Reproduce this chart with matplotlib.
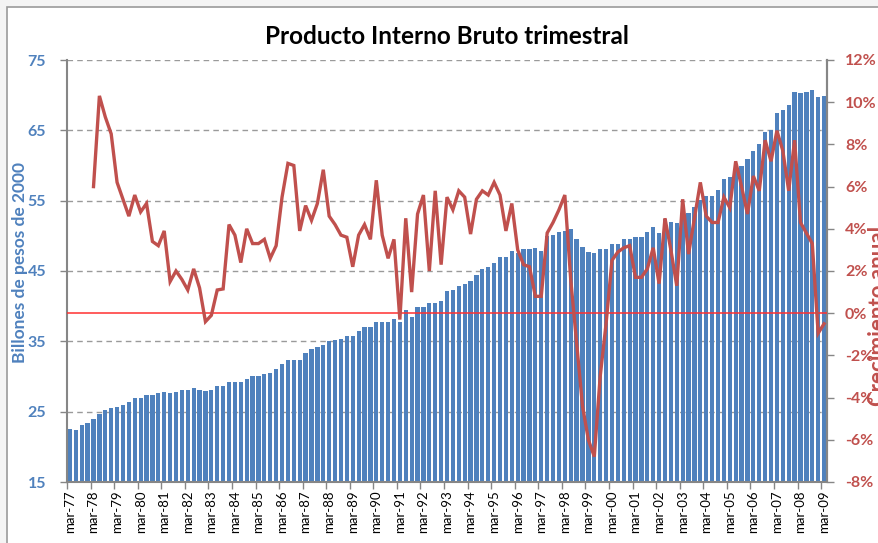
# Libraries
import matplotlib.pyplot as plt
import numpy as np
from matplotlib.patches import Rectangle

# Quarterly GDP (billions of 2000 pesos), mar-77 .. mar-09
pib = [22.6, 22.4, 23.1, 23.4, 24.0, 24.7, 25.3, 25.5, 25.6, 25.9,
       26.4, 26.9, 26.9, 27.3, 27.3, 27.7, 27.8, 27.7, 27.8, 28.1,
       28.1, 28.3, 28.1, 27.9, 28.1, 28.6, 28.6, 29.2, 29.2, 29.2,
       29.6, 30.1, 30.1, 30.3, 30.5, 31.1, 31.8, 32.4, 32.4, 32.3,
       33.3, 33.9, 34.2, 34.5, 35.0, 35.2, 35.4, 35.7, 35.7, 36.5,
       37.0, 37.0, 37.8, 37.8, 37.8, 38.2, 37.7, 39.4, 38.4, 39.9,
       39.9, 40.4, 40.5, 40.8, 42.1, 42.3, 42.8, 43.1, 43.6, 44.5,
       45.3, 45.5, 46.2, 47.0, 47.0, 47.9, 47.6, 48.1, 48.1, 48.2,
       47.9, 50.0, 50.1, 50.5, 50.7, 51.0, 49.6, 48.4, 47.7, 47.5,
       48.1, 48.1, 48.9, 48.9, 49.5, 49.6, 49.8, 49.8, 50.6, 51.2,
       50.4, 52.4, 52.0, 51.8, 54.1, 53.3, 54.1, 55.1, 55.6, 55.7,
       56.5, 58.1, 58.3, 59.8, 59.9, 60.9, 62.1, 63.1, 64.8, 65.1,
       67.5, 67.9, 68.6, 70.4, 70.3, 70.4, 70.7, 69.8, 69.9]

# Annual growth (%), first value at mar-78
crecimiento = [6.0, 10.3, 9.3, 8.5, 6.2, 5.4, 4.6, 5.6, 4.8, 5.2,
               3.4, 3.2, 3.9, 1.5, 2.0, 1.6, 1.1, 2.1, 1.2, -0.4,
               -0.1, 1.1, 1.15, 4.2, 3.7, 2.4, 4.0, 3.3, 3.3, 3.5,
               2.6, 3.2, 5.5, 7.1, 7.0, 3.9, 5.1, 4.4, 5.2, 6.8,
               4.6, 4.2, 3.7, 3.6, 2.2, 3.7, 4.2, 3.5, 6.3, 3.7,
               2.6, 3.5, -0.3, 4.5, 1.0, 4.7, 5.6, 2.0, 5.8, 2.3,
               5.5, 4.9, 5.8, 5.5, 3.75, 5.4, 5.8, 5.6, 6.2, 5.6,
               3.9, 5.2, 3.0, 2.3, 2.2, 0.8, 0.8, 3.8, 4.3, 4.9,
               5.6, 1.6, -1.4, -4.4, -6.0, -6.8, -3.0, -0.5, 2.5, 2.9,
               3.1, 3.2, 1.7, 1.7, 2.1, 3.1, 1.4, 4.5, 3.0, 1.3,
               5.4, 2.8, 4.5, 6.2, 4.6, 4.3, 4.3, 5.5, 5.0, 7.2,
               6.0, 4.7, 6.5, 5.8, 8.2, 7.2, 8.65, 7.7, 5.8, 8.2,
               4.3, 3.8, 3.3, -0.95, -0.5]

# Tick labels, one per year
etiquetas = ['mar-%02d' % (y % 100) for y in range(1977, 2010)]

azul = '#4F81BD'
rojo = '#C0504D'
gris = '#868686'
plt.rcParams['font.family'] = ['Lato', 'DejaVu Sans']

fig = plt.figure(figsize=(8.79, 5.43), dpi=100, facecolor='#f4f4f4')
# Chart frame (behind everything)
fig.patches.append(Rectangle((7 / 879, -0.05), 1.0, 1 - 7 / 543 + 0.05,
                             transform=fig.transFigure, facecolor='white',
                             edgecolor='#9a9a9a', linewidth=1.2, zorder=-5))

ax = fig.add_axes([67 / 879, 1 - 482 / 543, 760 / 879, 422 / 543])
ax.set_facecolor('none')
x = np.arange(len(pib))
ax.bar(x, pib, width=0.72, color=azul, zorder=2)
ax.set_ylim(15, 75)
ax.set_xlim(-0.5, len(pib) - 0.5)
ax.set_yticks(range(15, 76, 10))
ax.grid(axis='y', linestyle=(0, (4, 3)), color='#9a9a9a', linewidth=1.0, zorder=0)
ax.tick_params(axis='y', colors=gris, labelcolor=azul, labelsize=11.5, length=5, width=1, pad=10)
for t in ax.get_yticklabels():
    t.set_fontweight('bold')
ax.set_xticks(x[::4])
ax.set_xticklabels(etiquetas, rotation=90, fontsize=9.5)
ax.set_xticks(x[::4] - 0.5, minor=True)
ax.tick_params(axis='x', which='major', length=0, pad=6)
ax.tick_params(axis='x', which='minor', length=5, color=gris, width=1)
ax.set_ylabel('Billones de pesos de 2000', color=azul, fontsize=12.5, fontweight='bold')
ax.yaxis.set_label_coords(-0.051, 0.52)
ax.spines['top'].set_visible(False)
for s in ['left', 'right', 'bottom']:
    ax.spines[s].set_color(gris)
    ax.spines[s].set_linewidth(1.5)

# Growth line on the secondary axis
ax2 = ax.twinx()
ax2.set_ylim(-8, 12)
ax2.set_yticks(range(-8, 13, 2))
ax2.set_yticklabels(['%d%%' % v for v in range(-8, 13, 2)])
ax2.axhline(0, color='#FF3030', linewidth=1.1, zorder=3)
ax2.plot(x[4:], crecimiento, color=rojo, linewidth=2.4, zorder=4, solid_joinstyle='miter')
ax2.tick_params(axis='y', colors=gris, labelcolor=rojo, labelsize=11.5, length=5, width=1, pad=8)
for t in ax2.get_yticklabels():
    t.set_fontweight('bold')
for s in ['top', 'left', 'bottom']:
    ax2.spines[s].set_visible(False)
ax2.spines['right'].set_color(gris)
ax2.spines['right'].set_linewidth(1.5)

fig.text(868 / 879, 1 - 316 / 543, 'Crecimiento anual', color=rojo, fontsize=16,
         fontweight='bold', rotation=90, ha='left', va='center')
fig.text(447 / 879, 1 - 36 / 543, 'Producto Interno Bruto trimestral', fontsize=17.5,
         fontweight='bold', ha='center', va='center')

fig.savefig('out.png', dpi=100, facecolor=fig.get_facecolor())
